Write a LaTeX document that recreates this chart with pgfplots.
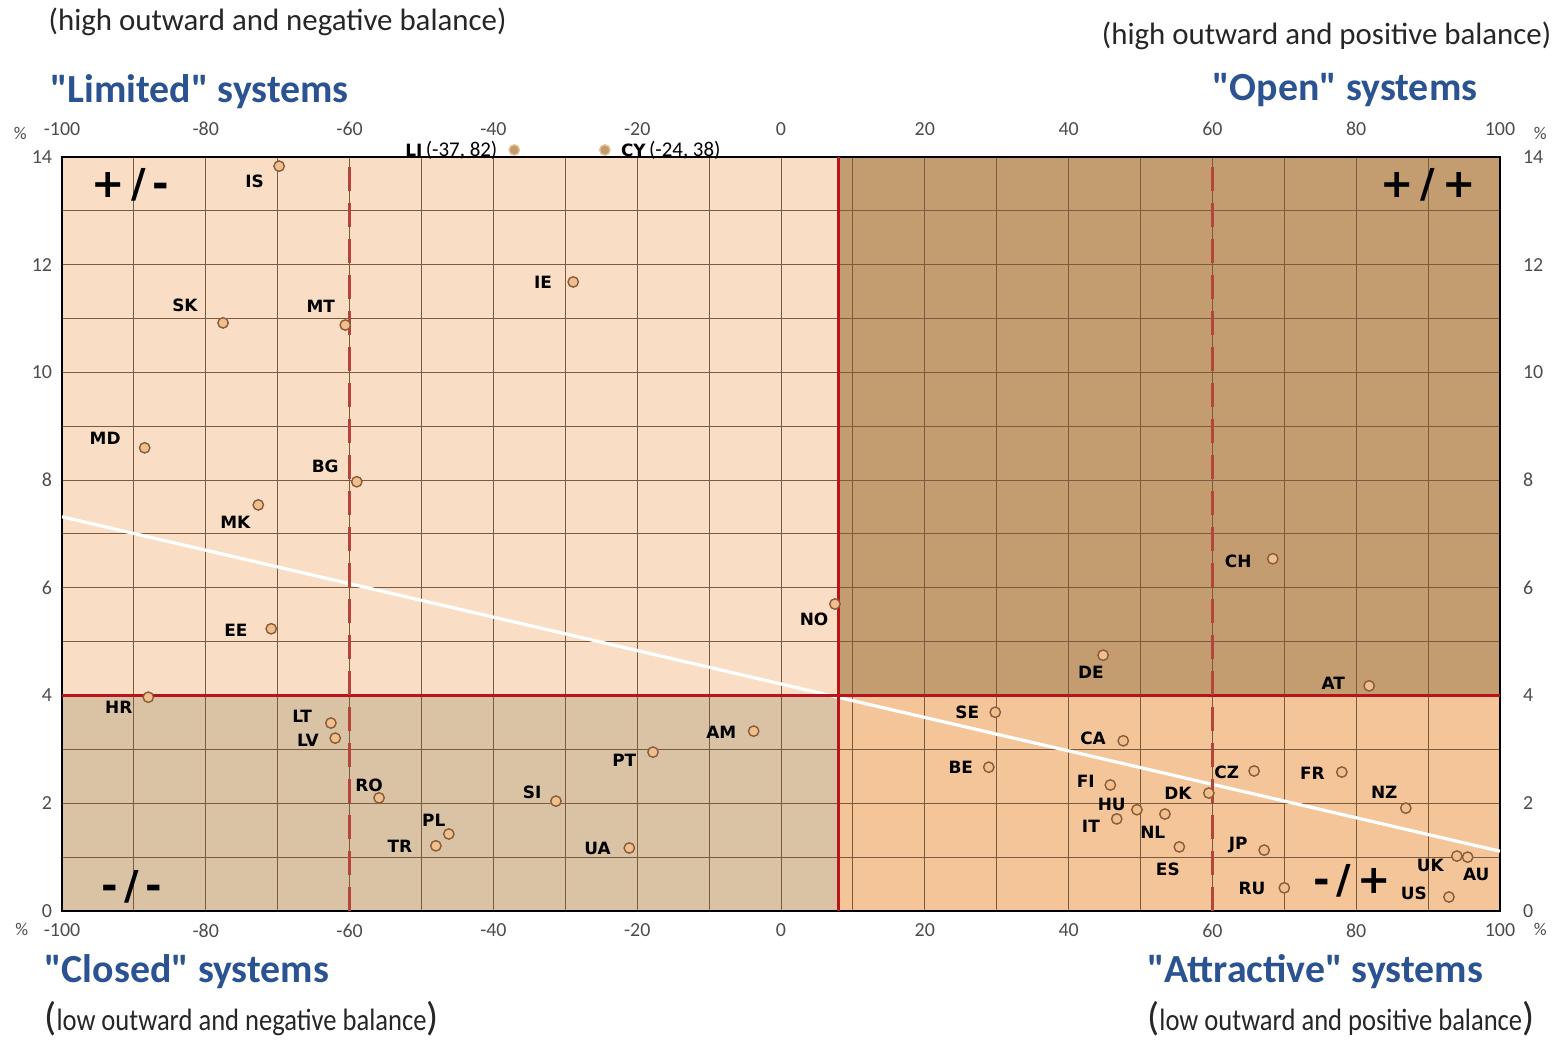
\documentclass[border=0pt]{standalone}
\usepackage{fontspec}
\setmainfont{Carlito}
\newfontfamily\lab{DejaVu Sans}
\usepackage{graphicx}
\usepackage{pgfplots}
\usepackage{pgfplotstable}
\pgfplotsset{compat=1.18}

\definecolor{qTL}{HTML}{F9DEC5}
\definecolor{qTR}{HTML}{C39C70}
\definecolor{qBL}{HTML}{DAC3A5}
\definecolor{qBR}{HTML}{F5C59A}
\definecolor{gridc}{HTML}{7B5B3E}
\definecolor{redl}{HTML}{B8141E}
\definecolor{dashc}{HTML}{B5453A}
\definecolor{markf}{HTML}{EFC08E}
\definecolor{markd}{HTML}{8A5A3A}
\definecolor{tblue}{HTML}{2B5391}

% countries: balance (x, %) vs outward mobility (y, %)
\pgfplotstableread{
x      y
-69.8  13.83
-28.9  11.68
-77.6  10.92
-60.6  10.88
-88.5  8.60
-59.0  7.97
-72.7  7.54
-70.9  5.24
7.5    5.70
68.4   6.54
44.8   4.75
81.8   4.18
-88.0  3.97
-62.6  3.49
-62.0  3.21
-55.9  2.10
-46.2  1.43
-48.0  1.21
-31.3  2.04
-21.1  1.17
-17.8  2.95
-3.8   3.34
29.8   3.69
47.6   3.16
28.9   2.67
45.8   2.34
49.5   1.88
46.7   1.71
53.4   1.80
55.4   1.19
59.5   2.19
65.8   2.60
78.0   2.58
86.9   1.91
67.2   1.13
70.0   0.43
94.0   1.02
95.5   1.00
92.9   0.26
}\points

% off-scale countries, drawn above the frame
\pgfplotstableread{
x      y
-37.1  14.13
-24.5  14.13
}\offscale

\tikzset{
  lbl/.style={font=\lab\bfseries\fontsize{8.5}{10}\selectfont, inner sep=0pt},
  quad/.style={font=\lab\bfseries\fontsize{20}{22}\selectfont, inner sep=0pt},
  ttl/.style={font=\bfseries\fontsize{20}{22}\selectfont, text=tblue, inner sep=0pt},
  sub/.style={font=\fontsize{15.5}{17}\selectfont, text=black!85, inner sep=0pt},
  pct/.style={font=\fontsize{9}{10}\selectfont, text=black!70, inner sep=0pt},
}
\newcommand{\q}{\textquotedbl}

\begin{document}
\begin{tikzpicture}
\pgfplotsset{
  common/.style={
    scale only axis, width=719bp, height=377bp,
    xmin=-100, xmax=100, ymin=0, ymax=14,
    xtick={-100,-80,...,100},
    xticklabels={-100,-80,-60,-40,-20,0,20,40,60,80,100},
    ytick={0,2,...,14},
    yticklabels={0,2,4,6,8,10,12,14},
    major tick length=0, minor tick length=0,
    ticklabel style={font=\fontsize{10}{12}\selectfont, text=black!70},
  }
}
% quadrant backgrounds, top and right tick labels
\begin{axis}[common, name=bg,
    axis line style={draw=none},
    xticklabel pos=right, yticklabel pos=right,
    xticklabel style={yshift=7bp},
    yticklabel style={xshift=8bp}]
\addplot[draw=none, fill=qTL] coordinates {(-100,4) (8,4) (8,14) (-100,14)};
\addplot[draw=none, fill=qTR] coordinates {(8,4) (100,4) (100,14) (8,14)};
\addplot[draw=none, fill=qBL] coordinates {(-100,0) (8,0) (8,4) (-100,4)};
\addplot[draw=none, fill=qBR] coordinates {(8,0) (100,0) (100,4) (8,4)};
\end{axis}

\begin{axis}[common, name=main, clip=false,
    axis line style={black, line width=1bp},
    minor x tick num=1, minor y tick num=1,
    grid=both,
    major grid style={gridc, line width=0.5bp},
    minor grid style={gridc, line width=0.5bp},
    xticklabel style={yshift=-3bp},
    yticklabel style={xshift=-1.5bp}]
\addplot[white, line width=1.6bp] coordinates {(-100,7.32) (100,1.11)};
\addplot[redl, line width=1.5bp] coordinates {(-100,4) (100,4)};
\addplot[redl, line width=1.5bp] coordinates {(8,0) (8,14)};
\addplot[dashc, line width=1.3bp, dash pattern=on 12bp off 6bp] coordinates {(-60,0) (-60,14)};
\addplot[dashc, line width=1.3bp, dash pattern=on 12bp off 6bp] coordinates {(60,0) (60,14)};

\addplot[only marks, mark=*, mark size=2.6bp,
  mark options={fill=markf, draw=markd, line width=0.7bp}] table {\points};
\addplot[only marks, mark=*, mark size=2.6bp,
  mark options={fill=markf!80!black, draw=markf, line width=0.7bp}] table {\offscale};

% country labels
\node[lbl] at (axis cs:-73.2,13.54) {IS};
\node[lbl] at (axis cs:-33.1,11.68) {IE};
\node[lbl] at (axis cs:-82.9,11.25) {SK};
\node[lbl] at (axis cs:-64.0,11.23) {MT};
\node[lbl] at (axis cs:-94.0,8.78) {MD};
\node[lbl] at (axis cs:-63.4,8.26) {BG};
\node[lbl] at (axis cs:-75.9,7.22) {MK};
\node[lbl] at (axis cs:-75.8,5.22) {EE};
\node[lbl] at (axis cs:4.6,5.42) {NO};
\node[lbl] at (axis cs:63.6,6.50) {CH};
\node[lbl] at (axis cs:43.1,4.44) {DE};
\node[lbl] at (axis cs:76.8,4.23) {AT};
\node[lbl] at (axis cs:-92.1,3.79) {HR};
\node[lbl] at (axis cs:-66.6,3.62) {LT};
\node[lbl] at (axis cs:-65.8,3.16) {LV};
\node[lbl] at (axis cs:-57.3,2.34) {RO};
\node[lbl] at (axis cs:-48.3,1.69) {PL};
\node[lbl] at (axis cs:-53.0,1.21) {TR};
\node[lbl] at (axis cs:-34.6,2.21) {SI};
\node[lbl] at (axis cs:-25.5,1.17) {UA};
\node[lbl] at (axis cs:-21.8,2.79) {PT};
\node[lbl] at (axis cs:-8.3,3.32) {AM};
\node[lbl] at (axis cs:25.9,3.68) {SE};
\node[lbl] at (axis cs:43.4,3.21) {CA};
\node[lbl] at (axis cs:25.0,2.66) {BE};
\node[lbl] at (axis cs:42.4,2.40) {FI};
\node[lbl] at (axis cs:46.0,1.97) {HU};
\node[lbl] at (axis cs:43.1,1.58) {IT};
\node[lbl] at (axis cs:51.7,1.47) {NL};
\node[lbl] at (axis cs:53.8,0.78) {ES};
\node[lbl] at (axis cs:55.2,2.19) {DK};
\node[lbl] at (axis cs:62.0,2.58) {CZ};
\node[lbl] at (axis cs:73.9,2.56) {FR};
\node[lbl] at (axis cs:83.9,2.21) {NZ};
\node[lbl] at (axis cs:63.6,1.23) {JP};
\node[lbl] at (axis cs:65.5,0.41) {RU};
\node[lbl] at (axis cs:90.3,0.84) {UK};
\node[lbl] at (axis cs:96.7,0.67) {AU};
\node[lbl] at (axis cs:88.0,0.32) {US};
\node[inner sep=0pt, anchor=east] at (axis cs:-39.4,14.13)
  {{\lab\bfseries\fontsize{8.5}{10}\selectfont LI}\,{\fontsize{10.5}{12}\selectfont(-37, 82)}};
\node[inner sep=0pt, anchor=west] at (axis cs:-22.3,14.13)
  {{\lab\bfseries\fontsize{8.5}{10}\selectfont CY}\,{\fontsize{10.5}{12}\selectfont(-24, 38)}};

% quadrant signs
\node[quad] at (axis cs:-90.5,13.48) {+\,/\,-};
\node[quad] at (axis cs:90.0,13.48) {+\,/\,+};
\node[quad] at (axis cs:-90.3,0.45) {-\,/\,-};
\node[quad] at (axis cs:79.4,0.56) {-\,/\,+};

% percent signs
\node[pct] at (axis cs:-105.8,14.44) {\%};
\node[pct] at (axis cs:105.6,14.44) {\%};
\node[pct] at (axis cs:-105.6,-0.35) {\%};
\node[pct] at (axis cs:105.6,-0.35) {\%};

% quadrant titles
\node[sub, anchor=west] at (axis cs:-101.9,16.51) {(high outward and negative balance)};
\node[ttl, anchor=west] at (axis cs:-101.7,15.21) {\q Limited\q{} systems};
\node[sub, anchor=east] at (axis cs:107.2,16.25) {(high outward and positive balance)};
\node[ttl, anchor=east] at (axis cs:96.9,15.24) {\q Open\q{} systems};
\node[ttl, anchor=west] at (axis cs:-102.5,-1.13) {\q Closed\q{} systems};
\node[sub, anchor=west] at (axis cs:-102.5,-2.0)
  {{\fontsize{20}{22}\selectfont(}\scalebox{0.86}[1]{low outward and negative balance}{\fontsize{20}{22}\selectfont)}};
\node[ttl, anchor=west] at (axis cs:50.9,-1.13) {\q Attractive\q{} systems};
\node[sub, anchor=west] at (axis cs:50.9,-2.0)
  {{\fontsize{20}{22}\selectfont(}\scalebox{0.86}[1]{low outward and positive balance}{\fontsize{20}{22}\selectfont)}};
\end{axis}
\pgfresetboundingbox
\path ([shift={(-31bp,-65bp)}]main.south west) rectangle ([shift={(28.5bp,78.5bp)}]main.north east);
\end{tikzpicture}
\end{document}
